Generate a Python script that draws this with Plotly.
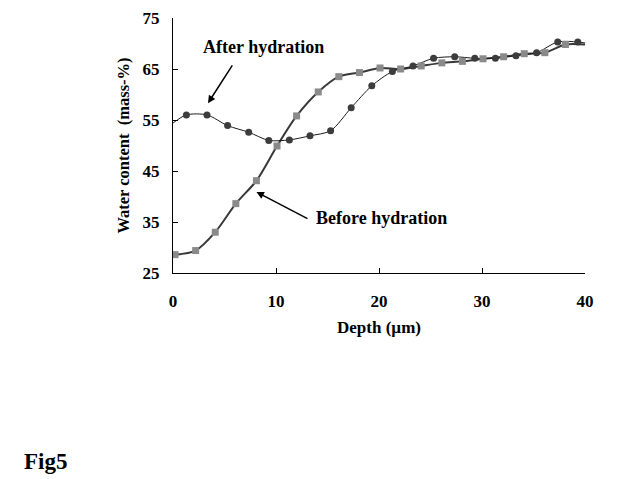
import plotly.graph_objects as go

# Before hydration (squares)
before_x = [0.2, 2.2, 4.1, 6.1, 8.1, 10.1, 12.0, 14.1, 16.1, 18.1, 20.1, 22.1, 24.1, 26.1, 28.1, 30.1, 32.1, 34.1, 36.1, 38.1]
before_y = [28.6, 29.4, 33.0, 38.6, 43.1, 49.9, 55.8, 60.5, 63.5, 64.3, 65.2, 65.0, 65.6, 66.2, 66.5, 67.0, 67.4, 68.0, 68.2, 69.8]
before_line_end_x = [40.0]
before_line_end_y = [69.8]

# After hydration (circles)
after_x = [1.3, 3.3, 5.3, 7.35, 9.3, 11.3, 13.3, 15.3, 17.3, 19.3, 21.3, 23.3, 25.3, 27.35, 29.3, 31.3, 33.3, 35.3, 37.35, 39.3]
after_y = [56.0, 56.0, 53.9, 52.6, 51.0, 51.1, 51.9, 52.9, 57.4, 61.7, 64.5, 65.6, 67.1, 67.4, 67.1, 67.1, 67.6, 68.2, 70.3, 70.3]
after_line_start_x = [0.0]
after_line_start_y = [54.4]
after_line_end_x = [40.0]
after_line_end_y = [70.1]

x_ticks = [0, 10, 20, 30, 40]
y_ticks = [25, 35, 45, 55, 65, 75]

FONT = "Liberation Serif"

# page body has an 8px default margin, so the figure is sized to fit inside the window
W, H = 620, 471
ML, MR, MT, MB = 165, 43, 10, 206

fig = go.Figure()

fig.add_trace(go.Scatter(
    x=before_x + before_line_end_x, y=before_y + before_line_end_y,
    mode="lines", line=dict(color="#383838", width=2, shape="spline", smoothing=0.8),
    hoverinfo="skip", showlegend=False))
fig.add_trace(go.Scatter(
    x=after_line_start_x + after_x + after_line_end_x,
    y=after_line_start_y + after_y + after_line_end_y,
    mode="lines", line=dict(color="#1a1a1a", width=1, shape="spline", smoothing=0.8),
    hoverinfo="skip", showlegend=False))
fig.add_trace(go.Scatter(
    x=after_x, y=after_y, mode="markers", name="After hydration",
    marker=dict(symbol="circle", size=7, color="#3c3c3c"), showlegend=False))
fig.add_trace(go.Scatter(
    x=before_x, y=before_y, mode="markers", name="Before hydration",
    marker=dict(symbol="square", size=7, color="#8a8a8a"), showlegend=False))

fig.update_layout(
    width=W, height=H,
    margin=dict(l=ML, r=MR, t=MT, b=MB, autoexpand=False),
    paper_bgcolor="white", plot_bgcolor="white",
    font=dict(family=FONT, color="black"),
    showlegend=False,
    xaxis=dict(
        range=[0, 40], tickvals=x_ticks, ticks="inside", ticklen=5, tickcolor="black",
        showline=True, linecolor="black", linewidth=1, showgrid=False, zeroline=False,
        tickfont=dict(family=FONT, size=17, color="black", weight="bold"),
        ticklabelstandoff=13, automargin=False, ticklabeloverflow="allow",
        title=dict(text="Depth (µm)", font=dict(family=FONT, size=17, weight="bold"), standoff=10),
    ),
    yaxis=dict(
        range=[25, 75], tickvals=y_ticks, ticks="inside", ticklen=5, tickcolor="black",
        showline=True, linecolor="black", linewidth=1, showgrid=False, zeroline=False,
        tickfont=dict(family=FONT, size=17, color="black", weight="bold"),
        ticklabelstandoff=9, automargin=False, ticklabeloverflow="allow",
        title=dict(text="Water content  (mass-%)", font=dict(family=FONT, size=16.5, weight="bold"), standoff=8),
    ),
)

# arrows
fig.add_annotation(x=3.4, y=58.3, xref="x", yref="y", ax=5.85, ay=66.0, axref="x", ayref="y",
                   text="", showarrow=True, arrowhead=2, arrowsize=1, arrowwidth=1.5, arrowcolor="black")
fig.add_annotation(x=8.1, y=40.9, xref="x", yref="y", ax=13.2, ay=35.5, axref="x", ayref="y",
                   text="", showarrow=True, arrowhead=2, arrowsize=1, arrowwidth=1.5, arrowcolor="black")
# labels
fig.add_annotation(x=8.8, y=69.3, xref="x", yref="y", text="After hydration", showarrow=False,
                   font=dict(family=FONT, size=18, weight="bold"))
fig.add_annotation(x=20.2, y=35.8, xref="x", yref="y", text="Before hydration", showarrow=False,
                   font=dict(family=FONT, size=18, weight="bold"))

# "Fig5" caption, placed at page pixel position (22, 461) converted to paper coords
pw = W - ML - MR
ph = H - MT - MB
fig.add_annotation(x=(22 - 8 - ML) / pw, y=(H - MB - (461 - 8)) / ph, xref="paper", yref="paper",
                   text="Fig5", showarrow=False, xanchor="left", yanchor="middle",
                   font=dict(family=FONT, size=23, color="black", weight="bold"))

fig.write_html("out.html")
